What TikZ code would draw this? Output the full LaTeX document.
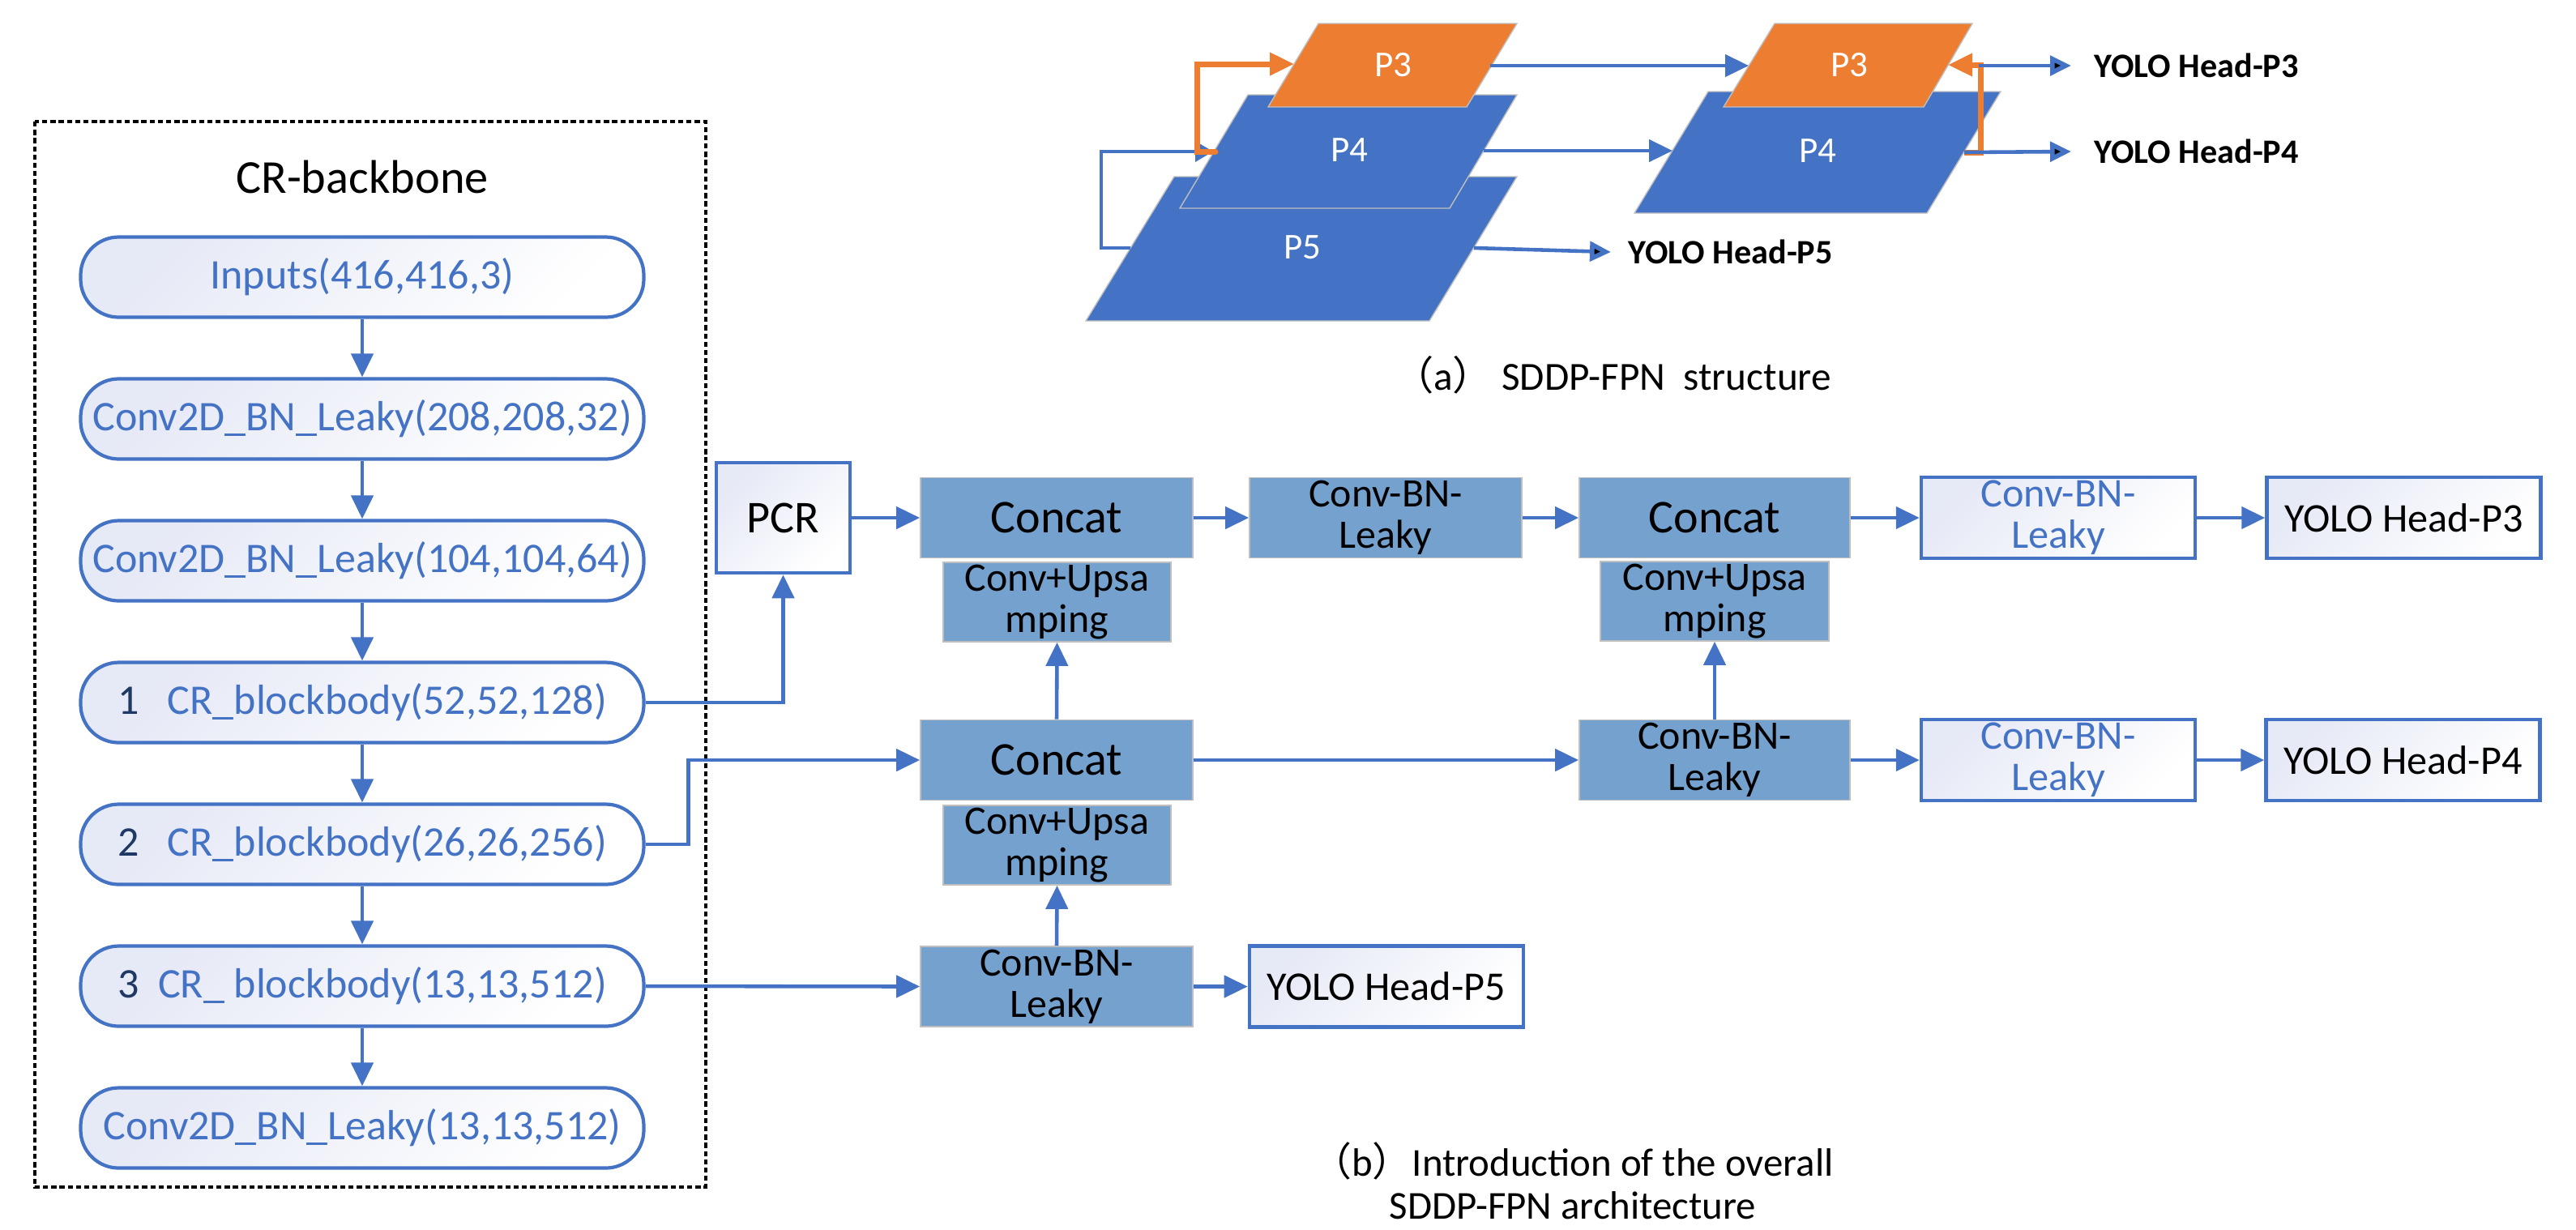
\documentclass[tikz,border=0pt]{standalone}
\usepackage{fontspec}
\setmainfont{Carlito}
\newfontfamily\cjk{Noto Sans CJK SC}
\usetikzlibrary{arrows.meta}

\begin{document}
\begin{tikzpicture}[
    pill/.style={rectangle, rounded corners=0.47cm, draw=r68g114b196, line width=1.2pt,
        top color=r230g233b246, bottom color=white, shading angle=45,
        minimum width=6.95cm, minimum height=0.99cm, inner sep=0pt,
        text=r68g114b196, font=\fontsize{14.8}{15}\selectfont},
    blk/.style={rectangle, draw=r191g191b191, line width=0.5pt, fill=r117g161b206,
        minimum width=3.36cm, minimum height=0.99cm, inner sep=0pt, align=center,
        text=black, font=\fontsize{14.2}{14.4}\selectfont},
    upblk/.style={blk, minimum width=2.81cm, minimum height=0.98cm},
    wbox/.style={rectangle, draw=r68g114b196, line width=1.3pt,
        top color=r230g233b246, bottom color=white, shading angle=45,
        minimum width=3.38cm, minimum height=1.0cm, inner sep=0pt, align=center,
        text=black, font=\fontsize{14.3}{14.4}\selectfont},
    arr/.style={draw=r68g114b196, line width=1.3pt, -{Triangle[length=0.29cm,width=0.27cm]}},
    headarr/.style={draw=r68g114b196, line width=1.3pt,
        -{Triangle[length=0.26cm,width=0.24cm,fill=black,line width=1.6pt]}},
    plabel/.style={text=white, font=\fontsize{12.8}{13}\selectfont},
    headtext/.style={anchor=west, inner sep=0pt, font=\fontsize{12}{13}\selectfont\bfseries}
]
\useasboundingbox (0,0) rectangle (31.79,-15.17);
{
% Changing colors
\definecolor{r68g114b196}{rgb}{0.266667,0.447059,0.768627}%
\definecolor{r237g125b49}{rgb}{0.929412,0.490196,0.192157}%
\definecolor{r117g161b206}{rgb}{0.458824,0.631373,0.807843}%
\definecolor{r191g191b191}{rgb}{0.749020,0.749020,0.749020}%
\definecolor{r230g233b246}{rgb}{0.901961,0.913725,0.964706}%
\definecolor{r31g56b100}{rgb}{0.121569,0.219608,0.392157}%

% ---------------- (a) SDDP-FPN structure ----------------

% Drawing layer P5
\filldraw [fill=r68g114b196, draw=r191g191b191, line width=0.4pt] (13.40,-3.96) -- (17.64,-3.96) -- (18.72,-2.18) -- (14.49,-2.18) -- cycle;%
% Drawing layer P4 (left)
\filldraw [fill=r68g114b196, draw=r191g191b191, line width=0.4pt] (14.56,-2.57) -- (17.89,-2.57) -- (18.72,-1.17) -- (15.40,-1.17) -- cycle;%
% Drawing layer P3 (left)
\filldraw [fill=r237g125b49, draw=r191g191b191, line width=0.4pt] (15.65,-1.32) -- (18.10,-1.32) -- (18.72,-0.29) -- (16.27,-0.29) -- cycle;%
% Drawing layer P4 (right)
\filldraw [fill=r68g114b196, draw=r191g191b191, line width=0.4pt] (20.17,-2.63) -- (23.78,-2.63) -- (24.69,-1.13) -- (21.08,-1.13) -- cycle;%
% Drawing layer P3 (right)
\filldraw [fill=r237g125b49, draw=r191g191b191, line width=0.4pt] (21.27,-1.32) -- (23.74,-1.32) -- (24.34,-0.29) -- (21.90,-0.29) -- cycle;%

% Layer labels
\node [plabel] (p3left) at (17.19,-0.80) {P3};
\node [plabel] (p4left) at (16.65,-1.85) {P4};
\node [plabel] (p5) at (16.07,-3.05) {P5};
\node [plabel] (p4right) at (22.43,-1.86) {P4};
\node [plabel] (p3right) at (22.82,-0.80) {P3};

% Edge points of the layers
\coordinate (p3leftE) at (18.39,-0.81);
\coordinate (p3rightW) at (21.58,-0.81);
\coordinate (p4leftE) at (18.31,-1.86);
\coordinate (p4rightW) at (20.64,-1.86);
\coordinate (p5E) at (18.19,-3.06);
\coordinate (p5W) at (13.95,-3.06);
\coordinate (p4leftW) at (14.97,-1.87);
\coordinate (p3leftW) at (15.97,-0.79);
\coordinate (p3rightE) at (24.04,-0.80);
\coordinate (p4rightE) at (24.24,-1.88);
\coordinate (loopleft) at (13.59,-3.06);
\coordinate (orangestart) at (15.00,-1.87);
\coordinate (orangeleft) at (14.77,-1.87);
\coordinate (orangeright) at (24.44,-1.88);
\coordinate (headstart) at (24.42,-0.81);

% Head texts
\node [headtext] (head3) at (25.84,-0.81) {YOLO Head-P3};
\node [headtext] (head4) at (25.84,-1.87) {YOLO Head-P4};
\node [headtext] (head5) at (20.09,-3.11) {YOLO Head-P5};

% Drawing arrows between the layers
\draw [arr] (p3leftE) -- (p3rightW);%
\draw [arr] (p4leftE) -- (p4rightW);%
\draw [headarr] (p5E) -- ([xshift=-0.21cm]head5.west);%
\draw [draw=r68g114b196, line width=1pt, -{Triangle[length=0.22cm,width=0.25cm]}] (p5W) -- (loopleft) |- (p4leftW);%

% Drawing orange paths
\draw [draw=r237g125b49, line width=2pt, line cap=round, -{Triangle[length=0.3cm,width=0.27cm]}] (orangestart) -- (orangeleft) |- (p3leftW);%
\draw [draw=r237g125b49, line width=2pt, -{Triangle[length=0.3cm,width=0.27cm]}] (p4rightE) -- (orangeright) |- (p3rightE);%

% Drawing arrows to the heads
\draw [headarr] (headstart) -- ([xshift=-0.28cm]head3.west);%
\draw [headarr] (p4rightE) -- ([xshift=-0.28cm]head4.west);%

% Caption (a)
\node [font=\fontsize{14}{15}\selectfont] (capa) at (19.90,-4.63) {{\cjk （}a{\cjk ）} SDDP-FPN\ \ structure};

% ---------------- CR-backbone ----------------

% Drawing dashed frame
\draw [line width=1.4pt, dash pattern=on 1.8pt off 1.1pt] (0.43,-1.50) rectangle (8.71,-14.65);%
\node [font=\fontsize{16.6}{17}\selectfont] (bbtitle) at (4.47,-2.18) {CR-backbone};

\node [pill] (inp) at (4.47,-3.42) {Inputs(416,416,3)};
\node [pill] (c208) at (4.47,-5.17) {Conv2D\_BN\_Leaky(208,208,32)};
\node [pill] (c104) at (4.47,-6.92) {Conv2D\_BN\_Leaky(104,104,64)};
\node [pill] (cr1) at (4.47,-8.67) {\textcolor{r31g56b100}{1}\ \ \ CR\_blockbody(52,52,128)};
\node [pill] (cr2) at (4.47,-10.42) {\textcolor{r31g56b100}{2}\ \ \ CR\_blockbody(26,26,256)};
\node [pill] (cr3) at (4.47,-12.17) {\textcolor{r31g56b100}{3}\ \ CR\_\ blockbody(13,13,512)};
\node [pill] (c13) at (4.47,-13.92) {Conv2D\_BN\_Leaky(13,13,512)};

% Drawing backbone arrows
\draw [arr] (inp) -- (c208);%
\draw [arr] (c208) -- (c104);%
\draw [arr] (c104) -- (cr1);%
\draw [arr] (cr1) -- (cr2);%
\draw [arr] (cr2) -- (cr3);%
\draw [arr] (cr3) -- (c13);%

% ---------------- (b) overall architecture ----------------

\node [wbox, minimum width=1.65cm, minimum height=1.36cm, font=\fontsize{16}{17}\selectfont] (pcr) at (9.665,-6.39) {PCR};
\node [blk, font=\fontsize{16.5}{17}\selectfont] (cat1) at (13.04,-6.39) {Concat};
\node [upblk] (up1) at (13.045,-7.43) {Conv+Upsa\\mping};
\node [blk] (cbl1) at (17.10,-6.39) {Conv-BN-\\Leaky};
\node [blk, font=\fontsize{16.5}{17}\selectfont] (cat2) at (13.04,-9.38) {Concat};
\node [upblk] (up2) at (13.045,-10.43) {Conv+Upsa\\mping};
\node [blk] (cbl2) at (13.04,-12.175) {Conv-BN-\\Leaky};
\node [wbox] (head5b) at (17.11,-12.175) {YOLO Head-P5};
\node [blk, minimum width=3.34cm, font=\fontsize{16.5}{17}\selectfont] (cat3) at (21.16,-6.39) {Concat};
\node [upblk, minimum width=2.82cm] (up3) at (21.16,-7.42) {Conv+Upsa\\mping};
\node [blk, minimum width=3.34cm] (cbl3) at (21.16,-9.38) {Conv-BN-\\Leaky};
\node [wbox, text=r68g114b196] (cblw1) at (25.40,-6.39) {Conv-BN-\\Leaky};
\node [wbox] (head3b) at (29.665,-6.39) {YOLO Head-P3};
\node [wbox, text=r68g114b196] (cblw2) at (25.40,-9.38) {Conv-BN-\\Leaky};
\node [wbox] (head4b) at (29.655,-9.38) {YOLO Head-P4};

% Drawing connections from the backbone
\draw [arr] (cr1.east) -| (pcr.south);%
\draw [arr] (cr2.east) -- ++(0.53,0) |- (cat2.west);%
\draw [arr] (cr3.east) -- (cbl2.west);%

% Drawing connections of the neck
\draw [arr] (pcr.east) -- (cat1.west);%
\draw [arr] (cat1.east) -- (cbl1.west);%
\draw [arr] (cbl1.east) -- (cat3.west);%
\draw [arr] (cat3.east) -- (cblw1.west);%
\draw [arr] (cblw1.east) -- (head3b.west);%
\draw [arr] (cat2.east) -- (cbl3.west);%
\draw [arr] (cbl3.east) -- (cblw2.west);%
\draw [arr] (cblw2.east) -- (head4b.west);%
\draw [arr] (cbl2.east) -- (head5b.west);%
\draw [arr] (cat2.north) -- (up1.south);%
\draw [arr] (cbl2.north) -- (up2.south);%
\draw [arr] (cbl3.north) -- (up3.south);%

% Caption (b)
\node [align=center, font=\fontsize{13.9}{15}\selectfont] (capb) at (19.41,-14.57) {{\cjk （}b{\cjk ）}Introduction of the overall\\SDDP-FPN architecture};
}
\end{tikzpicture}
\end{document}
